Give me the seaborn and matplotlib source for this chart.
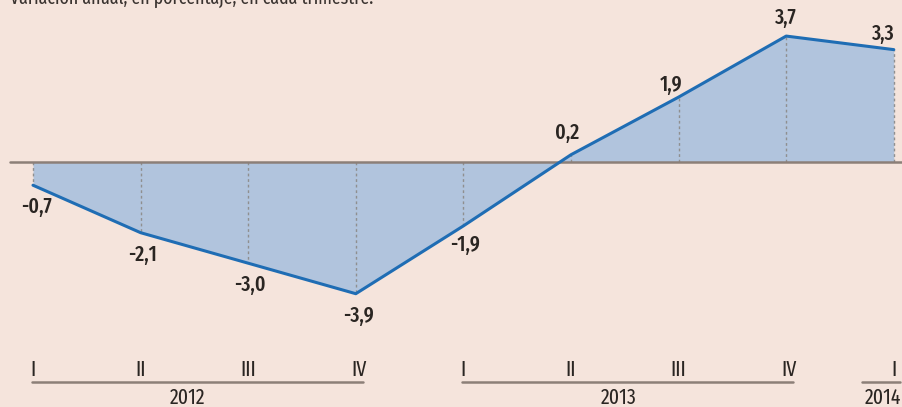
import matplotlib
matplotlib.use("Agg")
import matplotlib.pyplot as plt
import seaborn as sns
import pandas as pd
import numpy as np
import logging
logging.getLogger('matplotlib.font_manager').setLevel(logging.ERROR)

# ---- data ----
quarters = ['I', 'II', 'III', 'IV', 'I', 'II', 'III', 'IV', 'I']
years = ['2012', '2012', '2012', '2012', '2013', '2013', '2013', '2013', '2014']
values = [-0.7, -2.1, -3.0, -3.9, -1.9, 0.2, 1.9, 3.7, 3.3]
subtitle = "Variación anual, en porcentaje, en cada trimestre."

BG = '#f5e4dc'
FILL = '#b1c4dd'
LINE = '#1f6db4'
AXC = '#8c7f78'
TXT = '#2a2522'

sns.set_theme(style='white')
plt.rcParams['font.family'] = ['Fira Sans Extra Condensed', 'Roboto Condensed', 'DejaVu Sans']

df = pd.DataFrame({'pos': np.arange(len(values)), 'value': values,
                   'quarter': quarters, 'year': years})

fig = plt.figure(figsize=(9.03, 4.07), dpi=100, facecolor=BG)
ax = fig.add_axes([0, 0, 1, 1])
ax.set_facecolor(BG)

px = 107.6
x0 = 33
ax.set_xlim(-x0 / px, (903 - x0) / px)
ax.set_ylim((161.5 - 407) / 33.9, 161.5 / 33.9)

ax.fill_between(df['pos'], 0, df['value'], color=FILL, lw=0, zorder=1)
for p, v in zip(df['pos'], df['value']):
    ax.plot([p, p], [0, v], color='#8f8f8f', lw=1, ls=(0, (2, 2)), zorder=2)
ax.axhline(0, xmin=10 / 903, xmax=1, color=AXC, lw=1.8, zorder=3)
sns.lineplot(data=df, x='pos', y='value', ax=ax, color=LINE, lw=2.2, zorder=4,
             legend=False)
ax.axis('off')

# label offsets in pixels (dx, dy)
offs = [(4, -22), (2, -22), (2, -22), (3, -22), (2, -19),
        (-4, 22), (-8, 12), (-1, 18), (-11, 16)]
for p, v, (dx, dy) in zip(df['pos'], df['value'], offs):
    ax.annotate(f"{v:.1f}".replace('.', ','), (p, v), xytext=(dx, dy),
                textcoords='offset pixels', ha='center', va='center',
                fontsize=15.5, fontweight='medium', color=TXT, zorder=5)

def ypix(py):
    return (161.5 - py) / 33.9

# quarter labels
for p, q in zip(df['pos'], quarters):
    ax.text(p + (0.03 if q == 'IV' else 0), ypix(370), q, ha='center', va='center',
            fontsize=15.5, color=TXT)

# year underlines and labels
for yr, g in df.groupby('year'):
    lo, hi = g['pos'].min(), g['pos'].max()
    if len(g) > 1:
        a, b = lo - 0.01, hi + 0.065
        xc = (lo + hi) / 2 - 0.06
    else:
        a, b = lo - 0.3, hi + 0.055
        xc = lo - 0.1
    ax.plot([a, b], [ypix(382), ypix(382)], color=AXC, lw=1.8, clip_on=False)
    ax.text(xc, ypix(398), yr, ha='center', va='center', fontsize=15.5, color=TXT)

fig.text(10 / 903, 1 - 4 / 407, subtitle, ha='left', va='baseline',
         fontsize=14, color='#3a3330')

fig.savefig('out.png', dpi=100, facecolor=BG)
